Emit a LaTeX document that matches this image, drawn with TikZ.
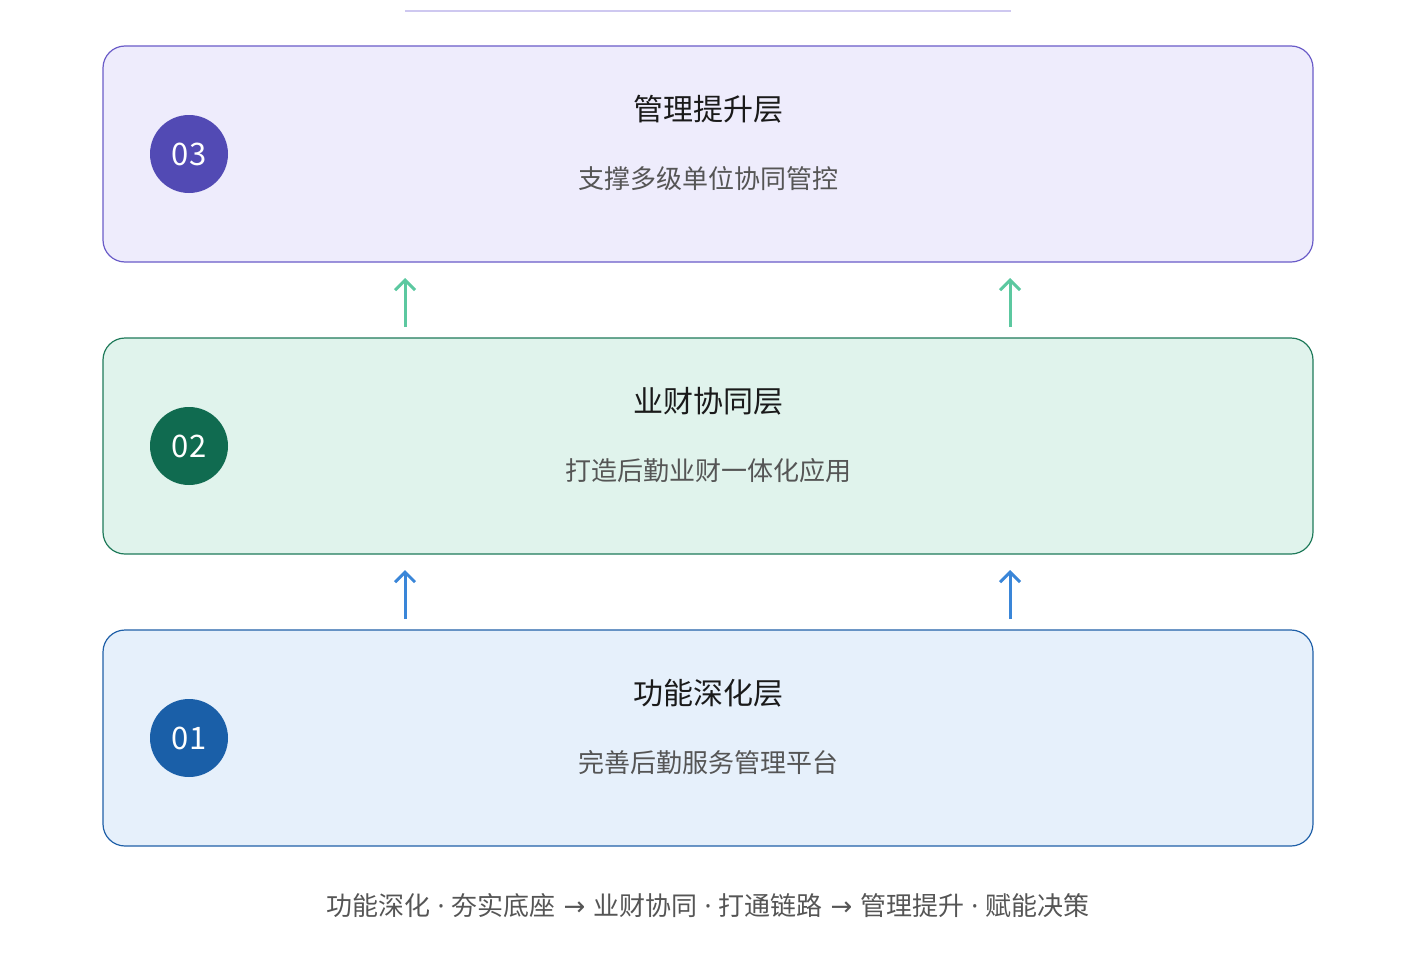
\documentclass[tikz,border=0pt]{standalone}
\usepackage{fontspec}
\setmainfont{Noto Sans CJK SC}
\newfontfamily\latinfont{Noto Sans}
\newfontfamily\symfont{DejaVu Sans}
\newcommand{\sepdot}{{\latinfont\ ·\ }}
\newcommand{\separr}{{\symfont\ →\ }}
\usetikzlibrary{arrows.meta}
\definecolor{fillC}{HTML}{EEECFC}
\definecolor{lineC}{HTML}{6A5CC8}
\definecolor{circC}{HTML}{524AB4}
\definecolor{fillB}{HTML}{E0F3EC}
\definecolor{lineB}{HTML}{1F7A5A}
\definecolor{circB}{HTML}{106B50}
\definecolor{fillA}{HTML}{E6F0FB}
\definecolor{lineA}{HTML}{2060A8}
\definecolor{circA}{HTML}{1A5FA8}
\definecolor{arrG}{HTML}{5CC8A0}
\definecolor{arrB}{HTML}{3A86D8}
\definecolor{topline}{HTML}{CEC8F0}
\definecolor{titleC}{HTML}{1A1A1A}
\definecolor{subC}{HTML}{555555}
\tikzset{
  layerbox/.style={draw, line width=1.2pt, rounded corners=22pt, minimum width=1210pt, minimum height=216pt, inner sep=0pt},
  numcirc/.style={circle, minimum size=78pt, inner sep=0pt, text=white, font=\fontsize{31}{34}\selectfont},
  titletext/.style={text=titleC, font=\fontsize{30}{34}\selectfont, inner sep=0pt},
  subtext/.style={text=subC, font=\fontsize{26}{30}\selectfont, inner sep=0pt},
  uparrow/.style={line width=3pt, -{Straight Barb[length=10pt,width=20pt,line width=3pt]}},
}
\begin{document}
\begin{tikzpicture}[x=1pt,y=-1pt]
\useasboundingbox (0,0) rectangle (1420,958);
\draw[topline, line width=2pt] (405,11) -- (1011,11);
% layer 3
\node[layerbox, draw=lineC, fill=fillC] (L3) at (708,154) {};
\node[numcirc, fill=circC] (N3) at (189,154) {03};
\node[titletext] (T3) at (708,109) {管理提升层};
\node[subtext] (S3) at (708,179) {支撑多级单位协同管控};
% layer 2
\node[layerbox, draw=lineB, fill=fillB] (L2) at (708,446) {};
\node[numcirc, fill=circB] (N2) at (189,446) {02};
\node[titletext] (T2) at (708,401) {业财协同层};
\node[subtext] (S2) at (708,471) {打造后勤业财一体化应用};
% layer 1
\node[layerbox, draw=lineA, fill=fillA] (L1) at (708,738) {};
\node[numcirc, fill=circA] (N1) at (189,738) {01};
\node[titletext] (T1) at (708,693) {功能深化层};
\node[subtext] (S1) at (708,763) {完善后勤服务管理平台};
% arrows
\coordinate (a1s) at (405,619); \coordinate (a1e) at (405,570);
\coordinate (a2s) at (1010,619); \coordinate (a2e) at (1010,570);
\coordinate (a3s) at (405,327); \coordinate (a3e) at (405,278);
\coordinate (a4s) at (1010,327); \coordinate (a4e) at (1010,278);
\draw[uparrow, arrB] (a1s) -- (a1e);
\draw[uparrow, arrB] (a2s) -- (a2e);
\draw[uparrow, arrG] (a3s) -- (a3e);
\draw[uparrow, arrG] (a4s) -- (a4e);
% bottom
\node[subtext] (B) at (708,906) {功能深化\sepdot 夯实底座\separr 业财协同\sepdot 打通链路\separr 管理提升\sepdot 赋能决策};
\end{tikzpicture}
\end{document}
